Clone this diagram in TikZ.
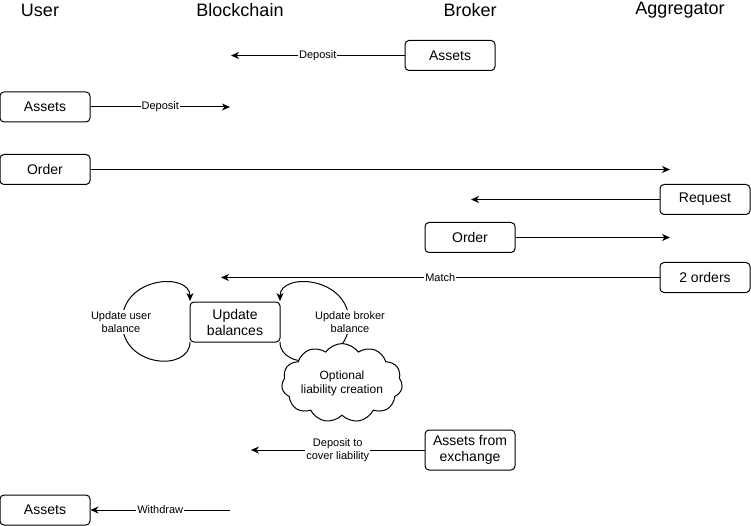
\documentclass[tikz,border=0pt]{standalone}
\usepackage{fontspec}
\setmainfont{Liberation Sans}
\usetikzlibrary{arrows.meta,shapes.symbols}
\begin{document}
\begin{tikzpicture}[x=1pt,y=-1pt,
  box/.style={draw,line width=1pt,rounded corners=4pt,minimum width=90pt,minimum height=30pt,inner sep=0pt,align=center,font=\fontsize{14}{16}\selectfont,fill=white},
  tallbox/.style={box,minimum height=40pt},
  header/.style={font=\fontsize{18}{20}\selectfont},
  elabel/.style={font=\fontsize{11}{13}\selectfont,fill=white,inner sep=1pt,align=center},
  conn/.style={line width=1pt,-{Stealth[length=8pt,width=7pt,inset=2.5pt]}},
  plainline/.style={line width=1pt}]
\useasboundingbox (0,0) rectangle (751,526);
% headers
\node[header] (hUser) at (40,10) {User};
\node[header] (hChain) at (240,10) {Blockchain};
\node[header] (hBroker) at (470,10) {Broker};
\node[header] (hAgg) at (680,10) {Aggregator};
% boxes
\node[box] (bAssets) at (450,55.5) {Assets};
\node[box] (uAssets) at (45,107) {Assets};
\node[box] (uOrder) at (45,169.5) {Order};
\node[box] (aRequest) at (705,199.5) {Request};
\node[box] (bOrder) at (470,237.5) {Order};
\node[box] (aOrders) at (705,277.5) {2 orders};
% end points
\coordinate (c1) at (231,55.5);
\coordinate (c2) at (230,107);
\coordinate (c3) at (670,169.5);
\coordinate (c4) at (471,199.5);
\coordinate (c5) at (670,237.5);
\coordinate (c6) at (221,277.5);
\coordinate (c7) at (251,450);
\coordinate (c8) at (230,510);
% loops (behind boxes)
\coordinate (lA) at (190,342);
\coordinate (lB) at (190,301);
\coordinate (rA) at (280,342);
\coordinate (rB) at (280,301);
\draw[conn] (lA) .. controls (190,372) and (122,368) .. (122,322) .. controls (122,276) and (190,272) .. (lB);
\draw[conn] (rA) .. controls (280,372) and (349,368) .. (349,322) .. controls (349,276) and (280,272) .. (rB);
\node[elabel] (lblUser) at (121,322) {Update user\\balance};
\node[elabel] (lblBroker) at (350,322) {Update broker\\balance};
\node[tallbox] (upd) at (235,322) {Update\\balances};
\node[cloud,draw,line width=1pt,fill=white,cloud puffs=11,cloud puff arc=110,aspect=1.8,minimum width=118pt,minimum height=68pt,inner sep=0pt,align=center,font=\fontsize{12}{14}\selectfont] (cloudL) at (342,383) {Optional\\liability creation};
\node[tallbox] (bExch) at (470,450) {Assets from\\exchange};
\node[box] (uAssets2) at (45,510) {Assets};
% connectors
\draw[conn] (bAssets.west) -- node[elabel,pos=0.5]{Deposit} (c1);
\draw[conn] (uAssets.east) -- node[elabel,pos=0.5]{Deposit} (c2);
\draw[conn] (uOrder.east) -- (c3);
\draw[conn] (aRequest.west) -- (c4);
\draw[conn] (bOrder.east) -- (c5);
\draw[conn] (aOrders.west) -- node[elabel,pos=0.5]{Match} (c6);
\draw[conn] (bExch.west) -- node[elabel,pos=0.5]{Deposit to\\cover liability} (c7);
\draw[conn] (c8) -- node[elabel,pos=0.5]{Withdraw} (uAssets2.east);
\end{tikzpicture}
\end{document}
